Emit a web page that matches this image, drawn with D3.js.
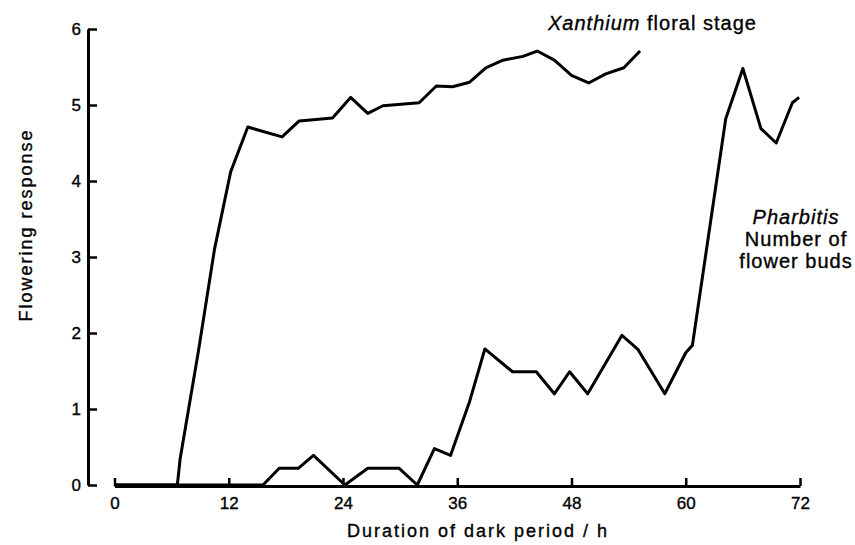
<!DOCTYPE html>
<html>
<head>
<meta charset="utf-8">
<script src="https://cdn.jsdelivr.net/npm/d3@7"></script>
<style>
  html, body { margin: 0; padding: 0; background: #fff; }
  svg { display: block; }
  text { font-family: "Liberation Sans", Arial, Helvetica, sans-serif; fill: #000;
         stroke: #000; stroke-width: 0.35px; }
</style>
</head>
<body>
<svg id="chart" width="855" height="545"></svg>
<script>
// Duration of dark period (h) for each Xanthium observation, and its floral stage
const xanthiumHours = [0, 6.6, 6.9, 8.8, 10.5, 12.2, 14.0, 17.6, 19.4, 22.9, 24.8, 26.6, 28.2, 32.0,
  33.8, 35.5, 37.3, 39.0, 40.8, 42.9, 44.4, 46.2, 48.0, 49.8, 51.6, 53.5, 55.2];
const xanthiumStage = [0, 0, 0.35, 1.75, 3.1, 4.12, 4.71, 4.58, 4.79, 4.83, 5.1, 4.89, 4.99, 5.03,
  5.25, 5.24, 5.3, 5.49, 5.59, 5.64, 5.71, 5.59, 5.39, 5.29, 5.41, 5.49, 5.71];

// Duration of dark period (h) for each Pharbitis observation, and its number of flower buds
const pharbitisHours = [0, 15.6, 17.3, 19.3, 20.9, 24.2, 26.6, 29.9, 31.8, 33.6, 35.3, 37.3, 38.9,
  41.8, 44.3, 46.2, 47.8, 49.7, 53.3, 55.0, 57.8, 60.0, 60.7, 64.2, 66.0, 67.9, 69.5, 71.2, 71.9];
const pharbitisBuds = [0, 0, 0.22, 0.22, 0.39, 0, 0.22, 0.22, 0, 0.48, 0.39, 1.1, 1.79,
  1.49, 1.49, 1.2, 1.49, 1.2, 1.97, 1.78, 1.2, 1.74, 1.84, 4.82, 5.48, 4.69, 4.5, 5.03, 5.1];

const xTicks = [0, 12, 24, 36, 48, 60, 72];
const yTicks = [0, 1, 2, 3, 4, 5, 6];

const svg = d3.select("#chart");

const x = d3.scaleLinear().domain([0, 72]).range([114.5, 800]);
const y = d3.scaleLinear().domain([0, 6]).range([485, 29]);

// x axis: ticks point upward, labels below
const xAxis = svg.append("g")
  .attr("transform", "translate(0,486)")
  .call(d3.axisBottom(x).tickValues(xTicks).tickFormat(d3.format("d"))
    .tickSizeInner(-8).tickSizeOuter(0).tickPadding(11));
xAxis.select(".domain").attr("stroke", "#000").attr("stroke-width", 3);
xAxis.selectAll(".tick line").attr("stroke", "#000").attr("stroke-width", 2.5);
xAxis.selectAll(".tick text").attr("font-size", 17).attr("fill", "#000")
  .attr("font-family", "'Liberation Sans', Arial, sans-serif");

// y axis: ticks point right, labels on the left
const yAxis = svg.append("g")
  .attr("transform", "translate(88,0)")
  .call(d3.axisLeft(y).tickValues(yTicks).tickFormat(d3.format("d"))
    .tickSizeInner(-9).tickSizeOuter(0).tickPadding(7));
yAxis.select(".domain").attr("stroke", "#000").attr("stroke-width", 3);
yAxis.selectAll(".tick line").attr("stroke", "#000").attr("stroke-width", 2.5);
yAxis.selectAll(".tick text").attr("font-size", 17).attr("fill", "#000")
  .attr("font-family", "'Liberation Sans', Arial, sans-serif");

// response curves
const line = d3.line()
  .x(d => x(d[0]))
  .y(d => y(d[1]));

const xanthium = xanthiumHours.map((h, i) => [h, xanthiumStage[i]]);
const pharbitis = pharbitisHours.map((h, i) => [h, pharbitisBuds[i]]);

[xanthium, pharbitis].forEach(series => {
  svg.append("path")
    .datum(series)
    .attr("d", line)
    .attr("fill", "none")
    .attr("stroke", "#000")
    .attr("stroke-width", 3)
    .attr("stroke-linejoin", "round");
});

// series labels
const xLab = svg.append("text")
  .attr("x", 548).attr("y", 30)
  .attr("font-size", 20).attr("letter-spacing", 1);
xLab.append("tspan").attr("font-style", "italic").text("Xanthium");
xLab.append("tspan").text(" floral stage");

const pLab = svg.append("text")
  .attr("text-anchor", "middle").attr("font-size", 20).attr("letter-spacing", 1);
[["Pharbitis", "italic", 224], ["Number of", "normal", 246], ["flower buds", "normal", 268]]
  .forEach(([t, style, yy]) => {
    pLab.append("tspan").attr("x", 796).attr("y", yy).attr("font-style", style).text(t);
  });

// axis titles
svg.append("text")
  .attr("x", 478).attr("y", 537)
  .attr("text-anchor", "middle")
  .attr("font-size", 18).attr("letter-spacing", 2)
  .text("Duration of dark period / h");

svg.append("text")
  .attr("transform", "translate(32,225) rotate(-90)")
  .attr("text-anchor", "middle")
  .attr("font-size", 18).attr("letter-spacing", 2)
  .text("Flowering response");
</script>
</body>
</html>
